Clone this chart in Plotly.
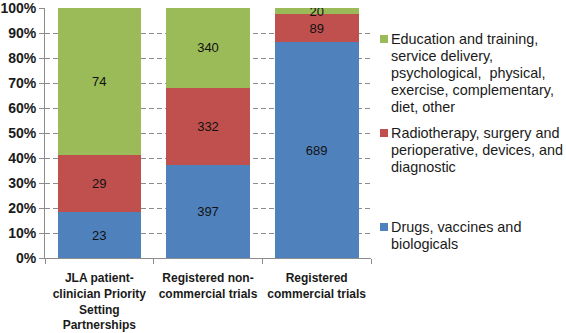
import plotly.graph_objects as go

# ---- data ----
categories = [
    "JLA patient-<br>clinician Priority<br>Setting<br>Partnerships",
    "Registered non-<br>commercial trials",
    "Registered<br>commercial trials",
]
series_names = [
    "Drugs, vaccines and biologicals",
    "Radiotherapy, surgery and perioperative, devices, and diagnostic",
    "Education and training, service delivery, psychological, physical, exercise, complementary, diet, other",
]
drugs = [23, 397, 689]
radio = [29, 332, 89]
education = [74, 340, 20]

y_tick_values = [0, 10, 20, 30, 40, 50, 60, 70, 80, 90, 100]
y_tick_labels = ["0%", "10%", "20%", "30%", "40%", "50%", "60%", "70%", "80%", "90%", "100%"]

legend_lines_drugs = ["Drugs, vaccines and", "biologicals"]
legend_lines_radio = ["Radiotherapy, surgery and", "perioperative, devices, and", "diagnostic"]
legend_lines_edu = ["Education and training,", "service delivery,", "psychological,  physical,",
                    "exercise, complementary,", "diet, other"]

colors = ["#4f81bd", "#c0504d", "#9bbb59"]

# ---- layout geometry (pixels) ----
W, H = 566, 333
L, R, T, B = 45, 195, 8, 75
PW, PH = W - L - R, H - T - B


def px(x):
    return (x - L) / PW


def py(y):
    return (H - B - y) / PH


fig = go.Figure()
for name, vals, col in zip(series_names, [drugs, radio, education], colors):
    fig.add_trace(go.Bar(
        x=categories, y=vals, name=name, marker=dict(color=col, line=dict(width=0)),
        text=[str(v) for v in vals], textposition="inside", insidetextanchor="middle",
        textangle=0,
        insidetextfont=dict(family="Liberation Sans, Arial, sans-serif", size=13, color="#111111"),
        constraintext="none", showlegend=False, hoverinfo="x+y+name",
    ))

# legend (manual, to match the original's spacing)
legend_blocks = [
    (legend_lines_edu, colors[2], 39),
    (legend_lines_radio, colors[1], 133),
    (legend_lines_drugs, colors[0], 227),
]
annotations = []
shapes = []
for lines, col, y0 in legend_blocks:
    shapes.append(dict(type="rect", xref="paper", yref="paper",
                       x0=px(380), x1=px(388), y0=py(y0 + 4), y1=py(y0 - 4),
                       fillcolor=col, line=dict(width=0)))
    for i, ln in enumerate(lines):
        annotations.append(dict(
            text=ln, xref="paper", yref="paper", x=px(389), y=py(y0 + 17 * i),
            xanchor="left", yanchor="middle", showarrow=False,
            font=dict(family="Liberation Sans, Arial, sans-serif", size=14.4, color="#1a1a1a"),
        ))

fig.update_layout(
    barmode="stack", barnorm="percent", bargap=0.23,
    width=W, height=H, margin=dict(l=L, r=R, t=T, b=B, pad=0, autoexpand=False),
    paper_bgcolor="white", plot_bgcolor="white",
    uniformtext=dict(minsize=13, mode="show"),
    annotations=annotations, shapes=shapes,
    font=dict(family="Liberation Sans, Arial, sans-serif", color="#1a1a1a"),
)
fig.update_yaxes(
    range=[0, 100], tickmode="array", tickvals=y_tick_values, ticktext=y_tick_labels,
    ticklabeloverflow="allow",
    showgrid=True, gridcolor="#8c8c8c",
    griddash="5px,3px", gridwidth=1, showline=True, linecolor="#8c8c8c", linewidth=1,
    ticks="outside", ticklen=5, tickcolor="#8c8c8c", zeroline=False, automargin=False,
    tickfont=dict(family="Liberation Sans, Arial, sans-serif", size=14, color="#1a1a1a", weight="bold"),
)
fig.update_xaxes(
    showline=True, linecolor="#8c8c8c", linewidth=1, ticks="outside", ticklen=5,
    tickcolor="#8c8c8c", tickson="boundaries", showgrid=False, automargin=False,
    ticklabelstandoff=9,
    tickfont=dict(family="Liberation Sans, Arial, sans-serif", size=12, color="#1a1a1a", weight="bold"),
)

fig.write_html("out.html", config={"displayModeBar": False},
               post_script="document.body.style.margin='0';")
